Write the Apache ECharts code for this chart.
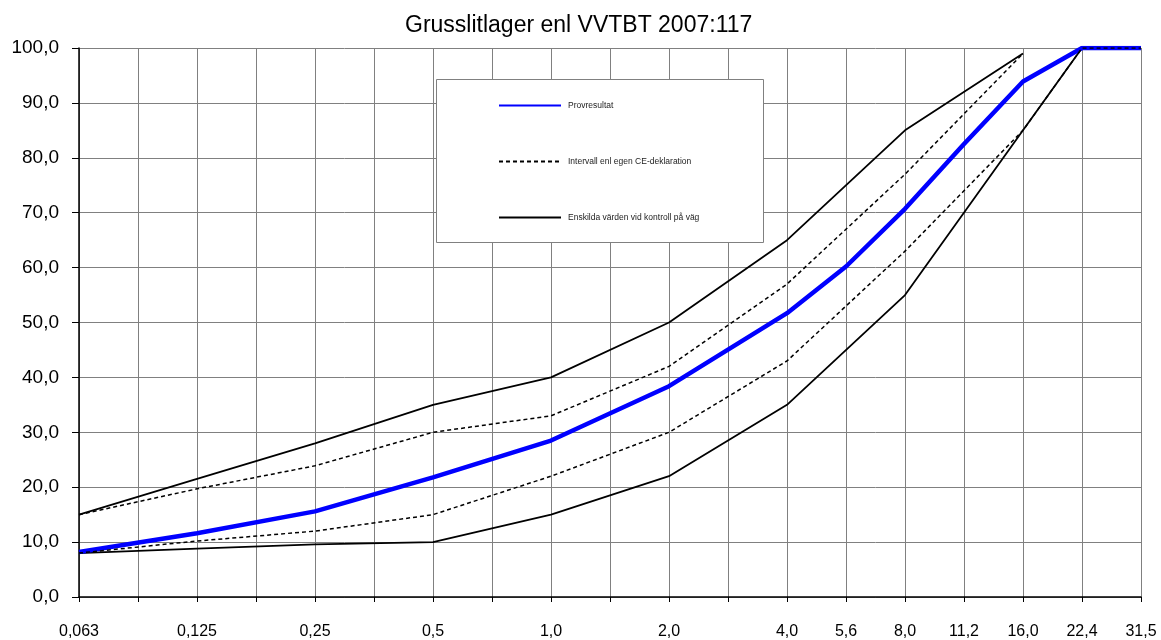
<!DOCTYPE html>
<html>
<head>
<meta charset="utf-8">
<script src="https://cdn.jsdelivr.net/npm/echarts@6/dist/echarts.min.js"></script>
<style>
html,body{margin:0;padding:0;background:#fff;}
#chart{width:1161px;height:640px;}
</style>
</head>
<body>
<div id="chart"></div>
<script>
// Sieve sizes (categories) and their printed tick labels
const sieves = ['0.063','0.09','0.125','0.18','0.25','0.355','0.5','0.71','1','1.4','2','2.8','4','5.6','8','11.2','16','22.4','31.5'];
const xLabels = ['0,063','','0,125','','0,25','','0,5','','1,0','','2,0','','4,0','5,6','8,0','11,2','16,0','22,4','31,5'];

// Series values (percent passing)
const provresultat = [8.2,null,11.6,null,15.6,null,21.8,null,28.5,null,38.4,null,51.7,60.2,70.7,82.5,93.9,100,100];
const ceUpper      = [15,null,19.7,null,23.9,null,30,null,33,null,42,null,57,null,77,null,99,null,null];
const ceLower      = [8,null,10.2,null,12,null,15,null,22,null,30,null,43,null,63,null,85,100,100];
const vagUpper     = [15,null,21.5,null,28,null,35,null,40,null,50,null,65,null,85,null,99,null,null];
const vagLower     = [8,null,8.8,null,9.6,null,10,null,15,null,22,null,35,null,55,null,85,100,100];

const NAME_P = 'Provresultat';
const NAME_CE = 'Intervall enl egen CE-deklaration';
const NAME_V = 'Enskilda värden vid kontroll på väg';
const FONT = 'Liberation Sans, Arial, sans-serif';

const chart = echarts.init(document.getElementById('chart'), null, {renderer:'canvas'});
chart.setOption({
  animation:false,
  backgroundColor:'#ffffff',
  title:{
    text:'Grusslitlager enl VVTBT 2007:117',
    left:400, top:9,
    textStyle:{fontFamily:FONT, fontSize:23, fontWeight:'normal', color:'#000'}
  },
  graphic:[{
    type:'rect', z:3,
    shape:{x:436.5, y:79.5, width:327, height:163},
    style:{fill:'#fff', stroke:'#808080', lineWidth:1}
  }],
  legend:{
    z:5,
    orient:'vertical',
    left:498, top:101,
    padding:0,
    itemWidth:62, itemHeight:8, itemGap:47,
    textStyle:{fontFamily:FONT, fontSize:8.5, color:'#222', lineHeight:8, padding:[0,0,0,2]},
    lineStyle:{width:2},
    itemStyle:{opacity:0},
    data:[NAME_P, NAME_CE, NAME_V]
  },
  grid:{left:79, right:20, top:48, bottom:39, containLabel:false},
  xAxis:{
    type:'category',
    data:sieves,
    boundaryGap:false,
    axisLine:{lineStyle:{color:'#000', width:1.5}},
    axisTick:{show:true, interval:0, length:5, lineStyle:{color:'#000'}},
    axisLabel:{interval:0, margin:27, color:'#000', fontFamily:FONT, fontSize:16,
      formatter:(v,i)=>xLabels[i]},
    splitLine:{show:true, interval:0, lineStyle:{color:'#808080', width:1}}
  },
  yAxis:{
    type:'value', min:0, max:100, interval:10,
    axisLine:{show:true, lineStyle:{color:'#000', width:1.5}},
    axisTick:{show:true, length:7, lineStyle:{color:'#000'}},
    axisLabel:{margin:20, color:'#000', fontFamily:FONT, fontSize:19,
      formatter:v=>v.toFixed(1).replace('.',',')},
    splitLine:{show:true, lineStyle:{color:'#808080', width:1}}
  },
  series:[
    {name:NAME_V, type:'line', z:2, data:vagUpper, connectNulls:true, symbol:'none',
     lineStyle:{color:'#000', width:1.8, type:'solid'}, itemStyle:{color:'#000'}},
    {name:NAME_V, type:'line', z:2, data:vagLower, connectNulls:true, symbol:'none',
     lineStyle:{color:'#000', width:1.8, type:'solid'}, itemStyle:{color:'#000'}},
    {name:NAME_P, type:'line', z:3, data:provresultat, connectNulls:true, symbol:'none',
     lineStyle:{color:'#0000ff', width:4.5}, itemStyle:{color:'#0000ff'}},
    {name:NAME_CE, type:'line', z:4, data:ceUpper, connectNulls:true, symbol:'none',
     lineStyle:{color:'#000', width:1.5, type:[4,3]}, itemStyle:{color:'#000'}},
    {name:NAME_CE, type:'line', z:4, data:ceLower, connectNulls:true, symbol:'none',
     lineStyle:{color:'#000', width:1.5, type:[4,3]}, itemStyle:{color:'#000'}}
  ]
});
</script>
</body>
</html>
